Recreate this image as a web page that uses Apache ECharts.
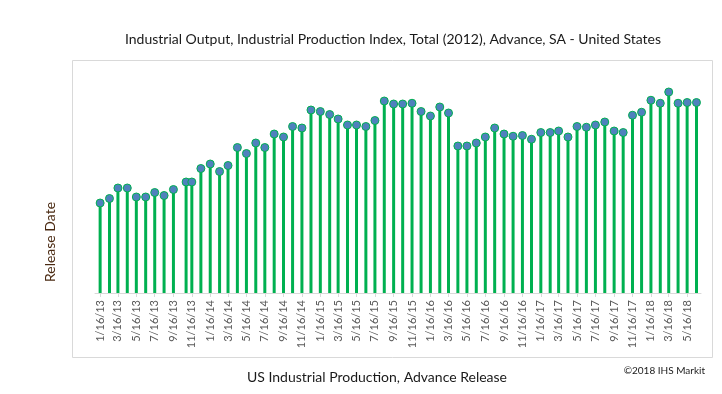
<!DOCTYPE html>
<html>
<head>
<meta charset="utf-8">
<script src="https://cdn.jsdelivr.net/npm/echarts@6/dist/echarts.min.js"></script>
<style>
html,body{margin:0;padding:0;background:#fff;}
#chart{width:722px;height:394px;}
</style>
</head>
<body>
<div id="chart"></div>
<script>
// Release dates (advance release of US industrial production)
var releaseDates = [
  '2013-01-16','2013-02-16','2013-03-16','2013-04-16','2013-05-16','2013-06-16','2013-07-16','2013-08-16','2013-09-16','2013-10-28','2013-11-16','2013-12-16',
  '2014-01-16','2014-02-16','2014-03-16','2014-04-16','2014-05-16','2014-06-16','2014-07-16','2014-08-16','2014-09-16','2014-10-16','2014-11-16','2014-12-16',
  '2015-01-16','2015-02-16','2015-03-16','2015-04-16','2015-05-16','2015-06-16','2015-07-16','2015-08-16','2015-09-16','2015-10-16','2015-11-16','2015-12-16',
  '2016-01-16','2016-02-16','2016-03-16','2016-04-16','2016-05-16','2016-06-16','2016-07-16','2016-08-16','2016-09-16','2016-10-16','2016-11-16','2016-12-16',
  '2017-01-16','2017-02-16','2017-03-16','2017-04-16','2017-05-16','2017-06-16','2017-07-16','2017-08-16','2017-09-16','2017-10-16','2017-11-16','2017-12-16',
  '2018-01-16','2018-02-16','2018-03-16','2018-04-16','2018-05-16','2018-06-16'
];
// Industrial Production Index, Total (2012=100), advance estimate
var ipIndex = [
  100.0, 100.3, 101.0, 101.0, 100.4, 100.4, 100.7, 100.5, 100.9, 101.4, 101.4, 102.3,
  102.6, 102.1, 102.5, 103.7, 103.3, 104.0, 103.7, 104.6, 104.4, 105.1, 105.0, 106.2,
  106.1, 105.9, 105.6, 105.2, 105.2, 105.1, 105.5, 106.8, 106.6, 106.6, 106.65, 106.1,
  105.8, 106.4, 106.0, 103.8, 103.8, 104.0, 104.4, 105.0, 104.6, 104.45, 104.5, 104.25,
  104.7, 104.7, 104.8, 104.4, 105.1, 105.05, 105.2, 105.4, 104.8, 104.7, 105.85, 106.05,
  106.85, 106.65, 107.4, 106.65, 106.7, 106.7
];
// X-axis tick labels
var tickLabels = [
  '1/16/13','3/16/13','5/16/13','7/16/13','9/16/13','11/16/13',
  '1/16/14','3/16/14','5/16/14','7/16/14','9/16/14','11/16/14',
  '1/16/15','3/16/15','5/16/15','7/16/15','9/16/15','11/16/15',
  '1/16/16','3/16/16','5/16/16','7/16/16','9/16/16','11/16/16',
  '1/16/17','3/16/17','5/16/17','7/16/17','9/16/17','11/16/17',
  '1/16/18','3/16/18','5/16/18'
];

var DAY = 86400000;
function dayNum(y,m,d){return Math.round(Date.UTC(y,m-1,d)/DAY);}
function parseISO(s){var p=s.split('-');return dayNum(+p[0],+p[1],+p[2]);}
function parseMDY(s){var p=s.split('/');return dayNum(2000+(+p[2]),+p[0],+p[1]);}
function fmt(n){var d=new Date(Math.round(n)*DAY);return (d.getUTCMonth()+1)+'/'+d.getUTCDate()+'/'+String(d.getUTCFullYear()).slice(2);}

var tickValues = tickLabels.map(parseMDY);
var seriesData = releaseDates.map(function(d,i){return [parseISO(d), ipIndex[i]];});

var font = 'Lato, "Open Sans", sans-serif';
var chart = echarts.init(document.getElementById('chart'), null, {renderer:'canvas'});
chart.setOption({
  animation:false,
  backgroundColor:'#ffffff',
  title:{
    text:'Industrial Output, Industrial Production Index, Total (2012), Advance, SA - United States',
    left:388, top:27, textAlign:'center',
    textStyle:{fontFamily:font, fontSize:14, fontWeight:'normal', color:'#1a1a1a'}
  },
  grid:{left:95, right:21, top:53, bottom:101},
  xAxis:{
    type:'value',
    min:parseISO('2012-12-30'),
    max:parseISO('2018-07-01'),
    axisLine:{show:true, onZero:false, lineStyle:{color:'#d9d9d9', width:1}},
    axisTick:{show:true, customValues:tickValues, length:4, lineStyle:{color:'#d9d9d9'}},
    splitLine:{show:false},
    axisLabel:{
      customValues:tickValues,
      rotate:90, margin:7,
      fontFamily:font, fontSize:11, color:'#595959',
      formatter:function(v){return fmt(v);}
    }
  },
  yAxis:{
    type:'value', min:94, max:110,
    axisLine:{show:false}, axisTick:{show:false},
    axisLabel:{show:false}, splitLine:{show:false}
  },
  series:[
    {
      type:'bar', data:seriesData, barWidth:3,
      itemStyle:{color:'#00b050'}, z:2
    },
    {
      type:'scatter', data:seriesData, symbol:'circle', symbolSize:8,
      itemStyle:{color:'#4f81bd', borderColor:'#00b050', borderWidth:1, opacity:1}, z:3
    }
  ],
  graphic:[
    {type:'rect', left:70, top:58, shape:{x:0,y:0,width:640,height:297}, style:{fill:'none', stroke:'#d9d9d9', lineWidth:1}, silent:true, z:-1},
    {type:'text', x:50, y:242, rotation:Math.PI/2, style:{text:'Release Date', font:'14px '+font, fill:'#4a2a12', textAlign:'center', textVerticalAlign:'middle'}},
    {type:'text', x:377, y:377, style:{text:'US Industrial Production, Advance Release', font:'14px '+font, fill:'#1a1a1a', textAlign:'center', textVerticalAlign:'middle'}},
    {type:'text', x:705, y:371, style:{text:'\u00a92018 IHS Markit', font:'10px '+font, fill:'#1a1a1a', textAlign:'right', textVerticalAlign:'middle'}}
  ]
});
</script>
</body>
</html>
